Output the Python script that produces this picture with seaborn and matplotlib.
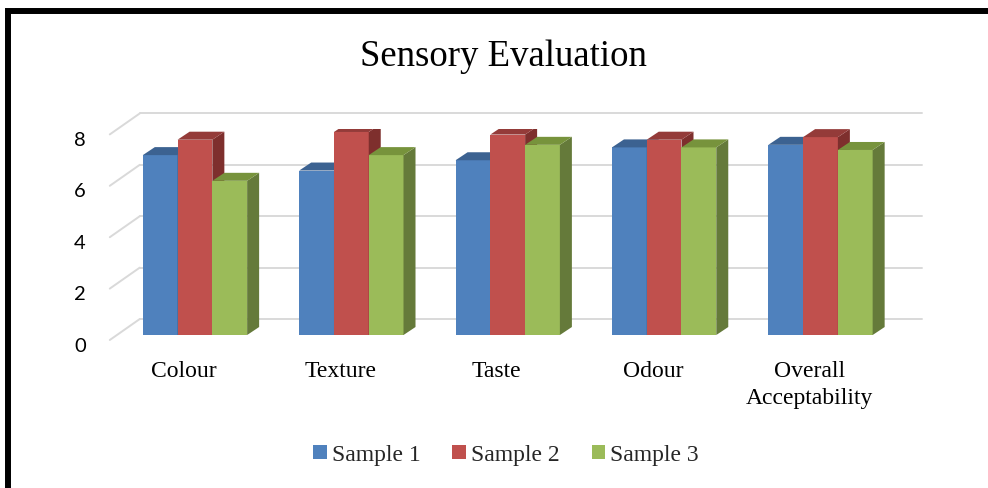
import matplotlib
matplotlib.use("Agg")
import matplotlib.pyplot as plt
import matplotlib.transforms as mtransforms
from matplotlib.colors import to_rgb
from matplotlib.patches import Polygon, Rectangle
import numpy as np
import pandas as pd
import seaborn as sns

categories = ["Colour", "Texture", "Taste", "Odour", "Overall\nAcceptability"]
samples = ["Sample 1", "Sample 2", "Sample 3"]
sample_1 = [7.0, 6.4, 6.8, 7.3, 7.4]
sample_2 = [7.6, 7.9, 7.8, 7.6, 7.7]
sample_3 = [6.0, 7.0, 7.4, 7.3, 7.2]
y_ticks = [0, 2, 4, 6, 8]

front_colors = ["#4F81BD", "#C0504D", "#9BBB59"]
top_colors = ["#3C6291", "#943B39", "#77933C"]
side_colors = ["#385D8A", "#7E2F2D", "#657A3A"]

serif = "Liberation Serif"
sans = "Lato"

df = pd.DataFrame({
    "Category": categories * 3,
    "Sample": np.repeat(samples, len(categories)),
    "Score": sample_1 + sample_2 + sample_3,
})

sns.set_style("white")
fig = plt.figure(figsize=(9.88, 4.88), dpi=100)
fig.patch.set_facecolor("white")
ax = fig.add_axes([0.1182, 0.3135, 0.7914, 0.4213])

sns.barplot(data=df, x="Category", y="Score", hue="Sample", palette=front_colors,
            width=0.667, saturation=1, edgecolor="none", legend=False, ax=ax)
ax.set_xlim(-0.5, len(categories) - 0.5)
ax.set_ylim(0, 8)
ax.set_axis_off()


def shifted(ox, oy):
    return mtransforms.offset_copy(ax.transData, fig, x=ox, y=oy, units="dots")


def to_data(pts):
    return ax.transData.inverted().transform(pts)


# depth of the 3d effect, in pixels
dx, dy = 12, 8
off = np.array([dx, dy])

for p in list(ax.patches):
    fc = p.get_facecolor()[:3]
    k = [i for i, c in enumerate(front_colors) if np.allclose(fc, to_rgb(c), atol=0.01)][0]
    x0, w, h = p.get_x(), p.get_width(), p.get_height()
    bl, br, tr, tl = ax.transData.transform([(x0, 0), (x0 + w, 0), (x0 + w, h), (x0, h)])
    side = to_data([br, tr, tr + off, br + off])
    top = to_data([tl, tr, tr + off, tl + off])
    ax.add_patch(Polygon(side, closed=True, fc=side_colors[k], ec="none", zorder=3 + k))
    ax.add_patch(Polygon(top, closed=True, fc=top_colors[k], ec="none", zorder=3 + k))
    p.set_zorder(3 + k)

# back wall gridlines and the floor diagonals on the left
grid_col = "#D9D9D9"
x_left, x_right = ax.get_xlim()
for v in y_ticks:
    ax.plot([x_left, x_right], [v, v], transform=shifted(23, 16), color=grid_col,
            lw=1.4, zorder=1, clip_on=False)
    base = ax.transData.transform((x_left, v))
    diag = to_data([base + np.array([23, 16]), base + np.array([-7, -5])])
    ax.plot(diag[:, 0], diag[:, 1], color=grid_col, lw=1.4, zorder=1, clip_on=False)
    ax.text(x_left, v, str(v), transform=shifted(-31, -11), ha="right", va="center",
            fontsize=14.5, family=sans, color="black")

for i, cat in enumerate(categories):
    ax.text(i, 0, cat, transform=shifted(-11, -26), ha="center", va="top",
            fontsize=17, family=serif, linespacing=1.35, color="black")

fig.text(503 / 988, 1 - 57 / 488, "Sensory Evaluation", ha="center", va="center",
         fontsize=26.5, family=serif, color="black")

handles = [Rectangle((0, 0), 1, 1, fc=c, ec="none") for c in front_colors]
fig.legend(handles, samples, loc="center", bbox_to_anchor=(506 / 988, 1 - 455 / 488),
           ncol=3, frameon=False, prop={"family": serif, "size": 17},
           handlelength=0.57, handleheight=0.49, handletextpad=0.22,
           columnspacing=1.35, borderaxespad=0)

# black frame, open at the right and bottom edge
fig.patches.append(Rectangle((8 / 988, -0.2), 1.5, 1.2 - 10.5 / 488, transform=fig.transFigure,
                             fill=False, ec="black", lw=4.3, zorder=10))

fig.savefig("out.png", dpi=100)
